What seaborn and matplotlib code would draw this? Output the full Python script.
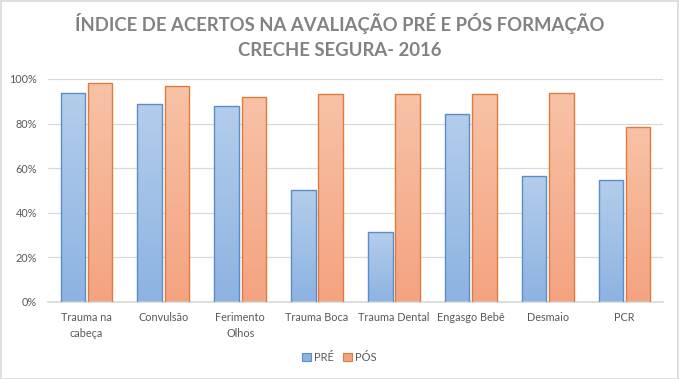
import numpy as np
import pandas as pd
import matplotlib
matplotlib.use("Agg")
import matplotlib.pyplot as plt
from matplotlib.patches import Rectangle
from matplotlib.ticker import PercentFormatter
import seaborn as sns

# data
categorias = ["Trauma na\ncabeça", "Convulsão", "Ferimento\nOlhos", "Trauma Boca",
              "Trauma Dental", "Engasgo Bebê", "Desmaio", "PCR"]
pre = [0.937, 0.888, 0.879, 0.501, 0.313, 0.843, 0.564, 0.546]
pos = [0.982, 0.969, 0.919, 0.933, 0.933, 0.933, 0.937, 0.784]
series = ["PRÉ", "PÓS"]

df = pd.DataFrame({
    "categoria": categorias * 2,
    "valor": pre + pos,
    "serie": ["PRÉ"] * len(pre) + ["PÓS"] * len(pos),
})

sns.set_theme(style="white")
plt.rcParams["font.family"] = ["Lato", "DejaVu Sans"]

# gradient colours (top, bottom) and edge colours, Excel style
grad = {"PRÉ": ("#B3CDEB", "#8DB3E2"), "PÓS": ("#F8C2A7", "#F4A380")}
edges = {"PRÉ": "#5B8DC8", "PÓS": "#E07B3C"}

fig = plt.figure(figsize=(6.79, 3.79), dpi=100)
ax = fig.add_axes([0.0707, 0.2032, 0.9057, 0.5884])

sns.barplot(data=df, x="categoria", y="valor", hue="serie", hue_order=series,
            palette=[grad["PRÉ"][1], grad["PÓS"][1]], width=0.71, gap=0.1,
            legend=False, ax=ax, zorder=3)

# gradient fill clipped to each bar
for cont, s in zip(ax.containers, series):
    top_c = np.array(matplotlib.colors.to_rgb(grad[s][0]))
    bot_c = np.array(matplotlib.colors.to_rgb(grad[s][1]))
    g = np.linspace(0, 1, 64)[:, None]
    img = (top_c * (1 - g) + bot_c * g)[:, None, :]
    for bar in cont:
        x, w, h = bar.get_x(), bar.get_width(), bar.get_height()
        bar.set_facecolor("none")
        bar.set_edgecolor(edges[s])
        bar.set_linewidth(1.0)
        im = ax.imshow(img, extent=[x, x + w, 0, h], aspect="auto",
                       origin="upper", zorder=2, interpolation="bilinear")
        im.set_clip_path(bar)

ax.set_ylim(0, 1)
ax.set_xlim(-0.5, len(categorias) - 0.5)

ax.set_yticks([0, 0.2, 0.4, 0.6, 0.8, 1.0])
ax.yaxis.set_major_formatter(PercentFormatter(1.0, decimals=0))
ax.yaxis.grid(True, color="#D9D9D9", linewidth=0.9, zorder=0)
ax.set_axisbelow(True)
ax.set_xlabel("")
ax.set_ylabel("")
for side in ["top", "right", "left"]:
    ax.spines[side].set_visible(False)
ax.spines["bottom"].set_color("#D9D9D9")
ax.tick_params(axis="both", length=0, labelsize=7.8, labelcolor="#595959")
ax.tick_params(axis="x", pad=7)
ax.tick_params(axis="y", pad=8)
for lab in ax.get_xticklabels():
    lab.set_linespacing(1.55)

fig.suptitle("ÍNDICE DE ACERTOS NA AVALIAÇÃO PRÉ E PÓS FORMAÇÃO\nCRECHE SEGURA- 2016",
             x=0.5, y=0.965, fontsize=13.3, fontweight="bold", color="#828282",
             linespacing=1.55)

handles = [Rectangle((0, 0), 1, 1, facecolor=grad[s][1], edgecolor=edges[s], linewidth=0.8)
           for s in series]
fig.legend(handles, series, loc="center", bbox_to_anchor=(0.5, 0.057), ncol=2,
           frameon=False, fontsize=8, labelcolor="#595959", handlelength=0.8,
           handleheight=0.8, handletextpad=0.3, columnspacing=0.8)

fig.add_artist(Rectangle((0.001, 0.001), 0.997, 0.996, transform=fig.transFigure,
                         fill=False, edgecolor="#D9D9D9", linewidth=1.2))

fig.savefig("out.png", dpi=100, facecolor="white")
